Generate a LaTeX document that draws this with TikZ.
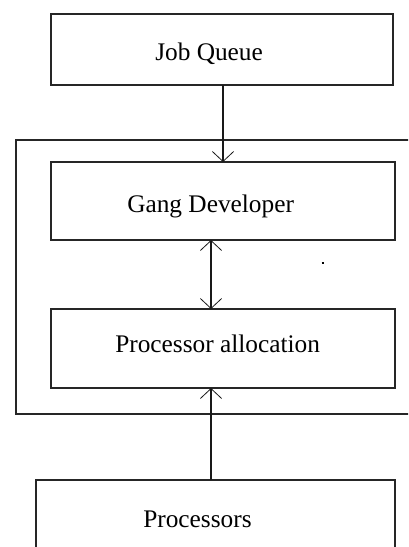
\documentclass[tikz,border=0pt]{standalone}
\usepackage{fontspec}
\setmainfont{Liberation Serif}
\usetikzlibrary{arrows.meta}
\begin{document}
\begin{tikzpicture}[x=0.75pt,y=-0.75pt,
  box/.style={draw=black!85,line width=1.3pt,inner sep=0pt},
  lbl/.style={anchor=base west,inner sep=0pt,font=\fontsize{19}{22}\selectfont},
  conn/.style={draw=black!90,line width=1.3pt},
  tip/.style={-{Straight Barb[length=7.5pt,width=16pt,line width=0.6pt]}},
  tips/.style={{Straight Barb[length=7.5pt,width=16pt,line width=0.6pt]}-{Straight Barb[length=7.5pt,width=16pt,line width=0.6pt]}}]
\useasboundingbox (0,0) rectangle (408,547);
\clip (0,0) rectangle (408,547);
% outer frame
\draw[box] (16,140) rectangle (425,414);
% boxes
\node[box,minimum width=342*0.75pt,minimum height=71*0.75pt] (jq) at (222,49.5) {};
\node[box,minimum width=344*0.75pt,minimum height=78*0.75pt] (gd) at (223,201) {};
\node[box,minimum width=344*0.75pt,minimum height=79*0.75pt] (pa) at (223,348.5) {};
\node[box,minimum width=359*0.75pt,minimum height=100*0.75pt] (pr) at (215.5,530) {};
% labels
\node[lbl] (tjq) at (155,60) {Job Queue};
\node[lbl] (tgd) at (127,212) {Gang Developer};
\node[lbl] (tpa) at (115,352) {Processor allocation};
\node[lbl] (tpr) at (143,527) {Processors};
% connectors
\coordinate (a1) at (223,85);
\coordinate (a2) at (223,162);
\draw[conn,tip] (a1) -- (a2);
\coordinate (b1) at (211,240);
\coordinate (b2) at (211,309);
\draw[conn,tips] (b1) -- (b2);
\coordinate (c1) at (211,480);
\coordinate (c2) at (211,388);
\draw[conn,tip] (c1) -- (c2);
% stray mark
\draw[line width=1pt] (321.5,263) -- (324,263);
\end{tikzpicture}
\end{document}
